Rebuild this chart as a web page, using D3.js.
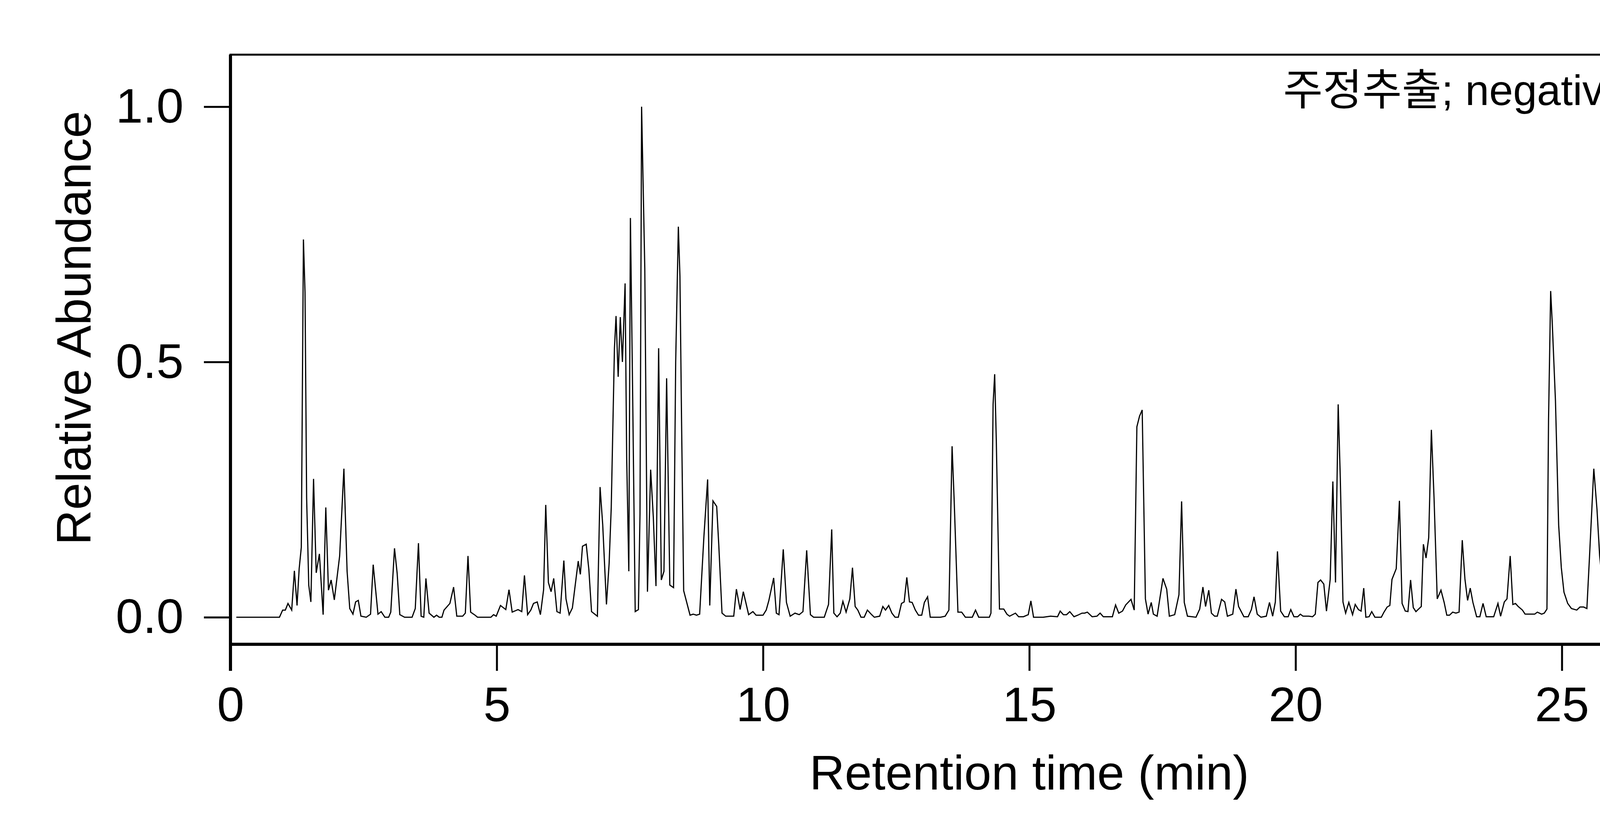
<!DOCTYPE html>
<html>
<head>
<meta charset="utf-8">
<script src="https://cdn.jsdelivr.net/npm/d3@7"></script>
<style>
  body { margin: 0; background: #fff; }
  text { font-family: "Liberation Sans", Arial, sans-serif; fill: #000; }
</style>
</head>
<body>
<svg class="js-chart"></svg>
<script>
// retention time (min) and relative abundance
var rt = [0.11,0.92,0.98,1.03,1.08,1.15,1.20,1.25,1.29,1.33,1.37,1.40,1.43,1.47,1.51,1.56,1.61,1.67,1.74,1.79,1.84,1.89,1.95,2.05,2.13,2.19,2.24,2.30,2.35,2.40,2.45,2.55,2.63,2.68,2.77,2.83,2.90,2.97,3.01,3.08,3.13,3.18,3.27,3.41,3.47,3.53,3.58,3.63,3.67,3.73,3.82,3.87,3.92,3.97,4.01,4.12,4.19,4.25,4.36,4.41,4.46,4.51,4.58,4.64,4.89,4.94,4.99,5.07,5.17,5.23,5.29,5.40,5.47,5.52,5.58,5.64,5.69,5.76,5.82,5.88,5.92,5.97,6.02,6.07,6.13,6.19,6.26,6.30,6.36,6.42,6.53,6.57,6.61,6.68,6.73,6.78,6.89,6.94,6.99,7.06,7.11,7.15,7.21,7.24,7.28,7.32,7.36,7.41,7.44,7.48,7.51,7.55,7.60,7.66,7.69,7.72,7.78,7.83,7.89,7.94,7.99,8.04,8.09,8.14,8.19,8.25,8.32,8.36,8.41,8.44,8.47,8.51,8.63,8.69,8.75,8.81,8.89,8.96,9.00,9.06,9.13,9.17,9.23,9.30,9.45,9.50,9.57,9.63,9.73,9.81,9.87,10.00,10.06,10.11,10.20,10.25,10.30,10.38,10.44,10.51,10.60,10.68,10.75,10.82,10.89,
  10.95,11.02,11.07,11.15,11.23,11.29,11.33,11.39,11.45,11.50,11.56,11.63,11.68,11.73,11.78,11.84,11.90,11.96,12.04,12.09,12.19,12.25,12.30,12.36,12.42,12.48,12.54,12.60,12.65,12.70,12.75,12.80,12.86,12.92,12.98,13.03,13.09,13.14,13.23,13.33,13.42,13.49,13.55,13.59,13.66,13.73,13.80,13.93,13.99,14.05,14.25,14.28,14.32,14.35,14.38,14.44,14.52,14.58,14.63,14.74,14.80,14.89,14.98,15.03,15.08,15.26,15.40,15.53,15.58,15.64,15.70,15.76,15.84,15.91,15.99,16.04,16.09,16.18,16.27,16.33,16.39,16.56,16.62,16.68,16.75,16.81,16.91,16.97,17.02,17.07,17.12,17.18,17.23,17.29,17.33,17.40,17.51,17.58,17.63,17.73,17.81,17.86,17.91,17.97,18.13,18.20,18.26,18.31,18.37,18.42,18.48,18.53,18.61,18.67,18.72,18.82,18.88,18.93,19.03,19.11,19.17,19.22,19.28,19.35,19.45,19.51,19.57,19.62,19.66,19.72,19.79,19.86,19.91,19.97,20.04,20.09,20.14,20.25,20.32,20.37,20.42,20.47,20.53,20.58,20.65,20.70,20.75,20.80,20.84,20.89,20.94,21.00,21.07,21.12,21.18,21.23,21.28,
  21.32,21.38,21.43,21.49,21.61,21.66,21.72,21.77,21.81,21.89,21.95,22.00,22.06,22.11,22.16,22.21,22.26,22.31,22.36,22.40,22.45,22.50,22.55,22.60,22.66,22.73,22.79,22.84,22.89,22.95,23.01,23.07,23.13,23.18,23.23,23.28,23.33,23.40,23.46,23.52,23.58,23.72,23.80,23.85,23.92,23.97,24.03,24.08,24.13,24.18,24.26,24.31,24.49,24.54,24.62,24.67,24.72,24.75,24.79,24.82,24.88,24.94,24.99,25.04,25.11,25.18,25.28,25.34,25.41,25.47,25.52,25.60,25.66,25.71,25.76,25.81,25.86,25.92,25.96,26.02,26.08,26.13,26.19,26.27,26.41,26.48,26.54,26.62,26.70,26.90,27.03,27.23,27.29,27.34,27.40,27.52,27.57,27.63,27.74,27.80,27.85,27.90,27.96,28.03,28.21,28.34,28.44,28.54,28.60,28.65,28.71,28.76,28.91,28.99,29.06,29.16,29.29,29.40,29.71,29.97];

var abundance = [0,0,.014,.014,.027,.014,.091,.023,.095,.137,.740,.637,.234,.063,.030,.271,.087,.124,.005,.215,.053,.073,.034,.120,.291,.090,.017,.006,.030,.033,.002,0,.006,.103,.006,.011,0,0,.010,.135,.086,.005,0,0,.017,.145,.002,0,.076,.008,0,.004,0,0,.014,.027,.059,.002,.002,.008,.120,.010,.005,0,0,.005,.002,.023,.015,.054,.010,.015,.011,.082,.005,.014,.027,.030,.005,.054,.220,.068,.050,.076,.011,.008,.111,.036,.005,.018,.110,.084,.139,.143,.093,.011,.002,.255,.181,.025,.105,.215,.527,.590,.471,.588,.500,.654,.311,.090,.782,.455,.011,.015,.203,1.000,.683,.050,.289,.196,.061,.527,.073,.090,.468,.063,.058,.500,.765,.668,.387,.052,.004,.006,.004,.006,.158,.270,.023,.228,.217,.140,.008,.002,.002,.055,.015,.050,.005,.011,.004,.004,.014,.033,.077,.008,.005,.133,.029,.002,.008,.005,.011,.131,.005,
  0,0,0,0,.025,.172,.008,.001,.008,.031,.010,.036,.097,.021,.014,0,0,.014,.005,0,.002,.021,.014,.023,.008,0,0,.027,.030,.078,.030,.029,.014,.004,.004,.029,.040,0,0,0,.002,.014,.335,.227,.010,.010,0,0,.014,0,0,.008,.417,.476,.348,.016,.016,.006,.002,.008,.001,.001,.005,.032,0,0,.002,.001,.012,.005,.005,.011,.001,.004,.008,.008,.010,.001,.002,.008,.001,.001,.024,.008,.012,.024,.035,.014,.373,.394,.406,.036,.006,.029,.006,.002,.076,.055,.002,.005,.044,.227,.029,.002,0,.016,.059,.021,.053,.008,.002,.002,.035,.030,.002,.006,.055,.021,.001,.001,.015,.040,.006,0,.002,.029,.002,.030,.129,.012,.001,.001,.015,.001,.001,.006,.002,.002,.001,.006,.068,.073,.065,.012,.074,.266,.068,.417,.272,.030,.008,.029,.005,.025,.015,.012,.057,
  0,.001,.011,0,0,.010,.020,.023,.074,.095,.228,.027,.012,.011,.073,.019,.011,.016,.021,.143,.116,.156,.367,.234,.036,.053,.029,.004,.004,.010,.008,.010,.151,.075,.033,.057,.029,.001,.001,.027,.001,.001,.027,.002,.030,.036,.120,.025,.027,.021,.014,.006,.006,.010,.006,.008,.016,.386,.639,.576,.424,.181,.097,.049,.027,.017,.014,.020,.020,.017,.120,.291,.211,.120,.068,.071,.024,.016,.017,.014,.019,.015,.015,.012,.012,.010,.011,.010,.008,.006,.005,.004,.006,.010,.002,.002,.008,.005,.048,.010,.061,.084,.010,0,0,.008,.014,.034,.021,.027,.008,.005,.019,.017,.008,.004,.002,.006,.006,.003];

var xTicks = [0, 5, 10, 15, 20, 25, 30],
    yTicks = [0, 0.5, 1.0],
    label = '주정추출; negative ion mode';

var chartW = 6000, chartH = 2100,
    plotL = 590, plotR = 4680, plotT = 140, plotB = 1650;

var x = d3.scaleLinear().domain([0, 30]).range([plotL, plotR]);
var y = d3.scaleLinear().domain([-0.053, 1.102]).range([plotB, plotT]);

var svg = d3.select('.js-chart')
    .attr('width', chartW)
    .attr('height', chartH);

// trace
var line = d3.line()
    .x(function (d, i) { return x(rt[i]); })
    .y(function (d) { return y(d); });

svg.append('path')
    .datum(abundance)
    .attr('d', line)
    .attr('fill', 'none')
    .attr('stroke', '#000')
    .attr('stroke-width', 3);

// frame
svg.append('rect')
    .attr('x', plotL).attr('y', plotT)
    .attr('width', plotR - plotL).attr('height', plotB - plotT)
    .attr('fill', 'none').attr('stroke', '#000').attr('stroke-width', 5);

// axes
var xAxis = d3.axisBottom(x).tickValues(xTicks).tickSize(68).tickPadding(40).tickFormat(d3.format('d'));
var gx = svg.append('g').attr('transform', 'translate(0,' + plotB + ')').call(xAxis);
gx.select('.domain').remove();
gx.append('line')
    .attr('x1', plotL).attr('x2', plotR)
    .attr('stroke', '#000').attr('stroke-width', 8);
gx.selectAll('.tick line').attr('stroke-width', 5);
gx.selectAll('.tick text').attr('font-size', 125).style('font-family', '"Liberation Sans", Arial, sans-serif');

var yAxis = d3.axisLeft(y).tickValues(yTicks).tickSize(68).tickPadding(52).tickFormat(d3.format('.1f'));
var gy = svg.append('g').attr('transform', 'translate(' + plotL + ',0)').call(yAxis);
gy.select('.domain').remove();
gy.append('line')
    .attr('x1', 0).attr('x2', 0)
    .attr('y1', plotT).attr('y2', plotB + 68)
    .attr('stroke', '#000').attr('stroke-width', 8);
gy.selectAll('.tick line').attr('stroke-width', 5);
gy.selectAll('.tick text').attr('font-size', 125).style('font-family', '"Liberation Sans", Arial, sans-serif');

// titles
svg.append('text')
    .attr('x', (plotL + plotR) / 2).attr('y', 2022)
    .attr('text-anchor', 'middle')
    .attr('font-size', 125)
    .text('Retention time (min)');

svg.append('text')
    .attr('transform', 'translate(232,840) rotate(-90)')
    .attr('text-anchor', 'middle')
    .attr('font-size', 125)
    .text('Relative Abundance');

svg.append('text')
    .attr('x', plotR - 30).attr('y', 269)
    .attr('text-anchor', 'end')
    .attr('font-size', 110)
    .style('font-family', '"Liberation Sans", "Noto Sans CJK KR", sans-serif')
    .text(label);
</script>
</body>
</html>
